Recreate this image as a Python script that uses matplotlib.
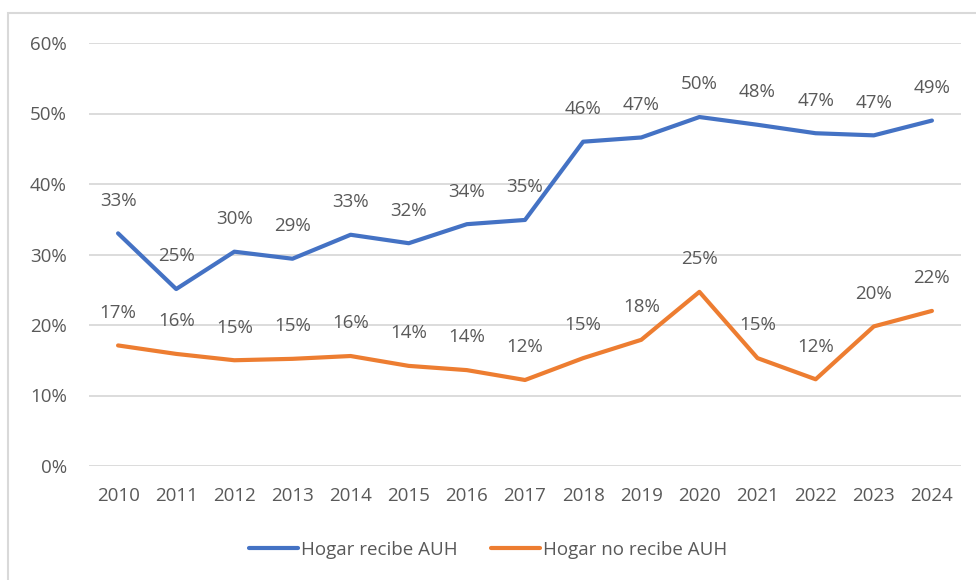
import matplotlib
matplotlib.use("Agg")
import matplotlib.pyplot as plt
from matplotlib.patches import Rectangle
from matplotlib.ticker import FuncFormatter

years = ["2010", "2011", "2012", "2013", "2014", "2015", "2016", "2017",
         "2018", "2019", "2020", "2021", "2022", "2023", "2024"]
recibe = [33.0, 25.1, 30.4, 29.4, 32.8, 31.6, 34.3, 34.9,
          46.0, 46.6, 49.5, 48.4, 47.2, 46.9, 49.0]
no_recibe = [17.1, 15.9, 15.0, 15.2, 15.6, 14.2, 13.6, 12.2,
             15.3, 17.9, 24.7, 15.3, 12.3, 19.8, 22.0]
label_recibe = "Hogar recibe AUH"
label_no = "Hogar no recibe AUH"

plt.rcParams['font.family'] = ['Open Sans', 'DejaVu Sans']
W, H = 976, 580
fig = plt.figure(figsize=(W / 100, H / 100), dpi=100)
fig.patches.append(Rectangle((8 / W, -0.1), 1.2, 1 - 13 / H + 0.1, transform=fig.transFigure,
                             fill=False, edgecolor='#D9D9D9', linewidth=1.5))
ax = fig.add_axes([89 / W, 1 - 466 / H, (961 - 89) / W, (466 - 43) / H])

txt = '#595959'
blue = '#4472C4'
orange = '#ED7D31'
fs = 13.5
x = list(range(len(years)))
ax.plot(x, recibe, color=blue, lw=3, solid_capstyle='round', label=label_recibe, zorder=3)
ax.plot(x, no_recibe, color=orange, lw=3, solid_capstyle='round', label=label_no, zorder=3)

for series in (recibe, no_recibe):
    for xi, v in zip(x, series):
        ax.annotate(f"{round(v):.0f}%", (xi, v), xytext=(0, 23.5), textcoords='offset points',
                    ha='center', va='center', fontsize=fs, color=txt)

ax.set_xlim(-0.5, len(years) - 0.5)
ax.set_ylim(0, 60)
ax.set_yticks(range(0, 61, 10))
ax.yaxis.set_major_formatter(FuncFormatter(lambda v, p: f"{v:.0f}%"))
ax.set_xticks(x)
ax.set_xticklabels(years)
ax.grid(axis='y', color='#D9D9D9', lw=1.3)
ax.set_axisbelow(True)
for s in ax.spines.values():
    s.set_visible(False)
ax.tick_params(axis='both', length=0, labelsize=fs, colors=txt)
ax.tick_params(axis='y', pad=16)
ax.tick_params(axis='x', pad=15)

leg = fig.legend(loc='center', bbox_to_anchor=(0.5, 1 - 550 / H), ncol=2, frameon=False,
                 fontsize=fs, handlelength=2.6, handletextpad=0.15, columnspacing=1.8)
for t in leg.get_texts():
    t.set_color(txt)

fig.savefig("out.png", dpi=100)
